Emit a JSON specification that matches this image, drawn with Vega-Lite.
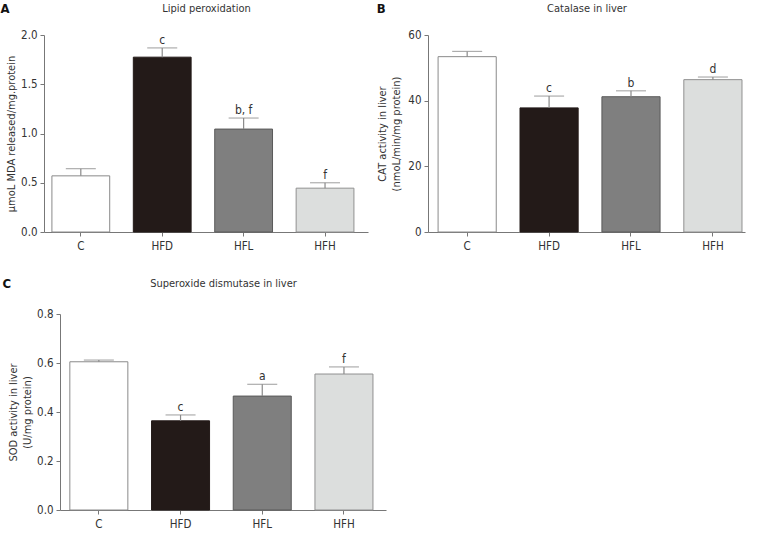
{
  "$schema": "https://vega.github.io/schema/vega-lite/v6.json",
  "padding": {"left": 0, "top": 2, "right": 2, "bottom": 2},
  "datasets": {
    "A": [
      {"g": "C", "mean": 0.57, "upper": 0.643, "sig": ""},
      {"g": "HFD", "mean": 1.775, "upper": 1.869, "sig": "c"},
      {"g": "HFL", "mean": 1.045, "upper": 1.157, "sig": "b, f"},
      {"g": "HFH", "mean": 0.445, "upper": 0.5, "sig": "f"}
    ],
    "B": [
      {"g": "C", "mean": 53.4, "upper": 55.0, "sig": ""},
      {"g": "HFD", "mean": 37.8, "upper": 41.4, "sig": "c"},
      {"g": "HFL", "mean": 41.2, "upper": 43.0, "sig": "b"},
      {"g": "HFH", "mean": 46.4, "upper": 47.2, "sig": "d"}
    ],
    "C": [
      {"g": "C", "mean": 0.605, "upper": 0.612, "sig": ""},
      {"g": "HFD", "mean": 0.364, "upper": 0.388, "sig": "c"},
      {"g": "HFL", "mean": 0.465, "upper": 0.513, "sig": "a"},
      {"g": "HFH", "mean": 0.555, "upper": 0.584, "sig": "f"}
    ]
  },
  "concat": [
    {
      "hconcat": [
        {
          "width": 324, "height": 197,
          "data": {"name": "A"},
          "title": {"text": "A", "anchor": "start", "frame": "bounds", "fontSize": 13, "fontWeight": "bold", "color": "#111", "offset": -14, "dx": -5},
          "layer": [
            {
              "encoding": {"x": {"field": "g", "type": "nominal", "sort": ["C", "HFD", "HFL", "HFH"], "scale": {"paddingInner": 0.29, "paddingOuter": 0.135, "align": 0.36}, "axis": {"title": null, "orient": "bottom"}}},
              "layer": [
                {"mark": {"type": "bar", "strokeWidth": 1},
                 "encoding": {
                   "y": {"field": "mean", "type": "quantitative", "title": "µmoL MDA released/mg.protein", "scale": {"domain": [0, 2], "nice": false}, "axis": {"values": [0, 0.5, 1, 1.5, 2], "format": ".1f", "titlePadding": 4}},
                   "fill": {"field": "g", "type": "nominal", "scale": {"domain": ["C", "HFD", "HFL", "HFH"], "range": ["#ffffff", "#231a18", "#7f7f7f", "#dcdedd"]}, "legend": null},
                   "stroke": {"field": "g", "type": "nominal", "scale": {"domain": ["C", "HFD", "HFL", "HFH"], "range": ["#8a8a8a", "#231a18", "#5a5a5a", "#909090"]}, "legend": null}
                 }},
                {"mark": {"type": "rule", "color": "#8a8a8a", "strokeWidth": 1.2},
                 "encoding": {"y": {"field": "mean", "type": "quantitative", "title": "µmoL MDA released/mg.protein"}, "y2": {"field": "upper"}}},
                {"mark": {"type": "tick", "color": "#8a8a8a", "thickness": 1.2, "size": 30},
                 "encoding": {"y": {"field": "upper", "type": "quantitative", "title": "µmoL MDA released/mg.protein"}}}
              ]
            },
            {
              "mark": {"type": "text", "baseline": "alphabetic", "dy": -4, "fontSize": 12, "color": "#333"},
              "encoding": {
                "x": {"field": "g", "type": "nominal", "sort": ["C", "HFD", "HFL", "HFH"], "axis": {"orient": "top", "title": "Lipid peroxidation", "labels": false, "ticks": false, "domain": false, "titlePadding": 22}},
                "y": {"field": "upper", "type": "quantitative", "title": "µmoL MDA released/mg.protein"},
                "text": {"field": "sig"}
              }
            }
          ],
          "resolve": {"axis": {"x": "independent"}}
        },
        {
          "width": 317, "height": 197,
          "data": {"name": "B"},
          "title": {"text": "B", "anchor": "start", "frame": "bounds", "fontSize": 13, "fontWeight": "bold", "color": "#111", "offset": -14},
          "layer": [
            {
              "encoding": {"x": {"field": "g", "type": "nominal", "sort": ["C", "HFD", "HFL", "HFH"], "scale": {"paddingInner": 0.29, "paddingOuter": 0.08, "align": 0.77}, "axis": {"title": null, "orient": "bottom"}}},
              "layer": [
                {"mark": {"type": "bar", "strokeWidth": 1},
                 "encoding": {
                   "y": {"field": "mean", "type": "quantitative", "title": ["CAT activity in liver", "(nmoL/min/mg protein)"], "scale": {"domain": [0, 60], "nice": false}, "axis": {"values": [0, 20, 40, 60], "titlePadding": 6}},
                   "fill": {"field": "g", "type": "nominal", "scale": {"domain": ["C", "HFD", "HFL", "HFH"], "range": ["#ffffff", "#231a18", "#7f7f7f", "#dcdedd"]}, "legend": null},
                   "stroke": {"field": "g", "type": "nominal", "scale": {"domain": ["C", "HFD", "HFL", "HFH"], "range": ["#8a8a8a", "#231a18", "#5a5a5a", "#909090"]}, "legend": null}
                 }},
                {"mark": {"type": "rule", "color": "#8a8a8a", "strokeWidth": 1.2},
                 "encoding": {"y": {"field": "mean", "type": "quantitative", "title": ["CAT activity in liver", "(nmoL/min/mg protein)"]}, "y2": {"field": "upper"}}},
                {"mark": {"type": "tick", "color": "#8a8a8a", "thickness": 1.2, "size": 30},
                 "encoding": {"y": {"field": "upper", "type": "quantitative", "title": ["CAT activity in liver", "(nmoL/min/mg protein)"]}}}
              ]
            },
            {
              "mark": {"type": "text", "baseline": "alphabetic", "dy": -4, "fontSize": 12, "color": "#333"},
              "encoding": {
                "x": {"field": "g", "type": "nominal", "sort": ["C", "HFD", "HFL", "HFH"], "axis": {"orient": "top", "title": "Catalase in liver", "labels": false, "ticks": false, "domain": false, "titlePadding": 22}},
                "y": {"field": "upper", "type": "quantitative", "title": ["CAT activity in liver", "(nmoL/min/mg protein)"]},
                "text": {"field": "sig"}
              }
            }
          ],
          "resolve": {"axis": {"x": "independent"}}
        }
      ],
      "spacing": 8
    },
    {
      "hconcat": [
        {
          "width": 342, "height": 196,
          "data": {"name": "C"},
          "title": {"text": "C", "anchor": "start", "frame": "bounds", "fontSize": 13, "fontWeight": "bold", "color": "#111", "offset": -14, "dx": -5},
          "layer": [
            {
              "encoding": {"x": {"field": "g", "type": "nominal", "sort": ["C", "HFD", "HFL", "HFH"], "scale": {"range": [16, 342], "paddingInner": 0.29, "paddingOuter": 0.14, "align": 0.43}, "axis": {"title": null, "orient": "bottom"}}},
              "layer": [
                {"mark": {"type": "bar", "strokeWidth": 1},
                 "encoding": {
                   "y": {"field": "mean", "type": "quantitative", "title": ["SOD activity in liver", "(U/mg protein)"], "scale": {"domain": [0, 0.8], "nice": false}, "axis": {"values": [0, 0.2, 0.4, 0.6, 0.8], "format": ".1f", "titlePadding": 4, "offset": -16}},
                   "fill": {"field": "g", "type": "nominal", "scale": {"domain": ["C", "HFD", "HFL", "HFH"], "range": ["#ffffff", "#231a18", "#7f7f7f", "#dcdedd"]}, "legend": null},
                   "stroke": {"field": "g", "type": "nominal", "scale": {"domain": ["C", "HFD", "HFL", "HFH"], "range": ["#8a8a8a", "#231a18", "#5a5a5a", "#909090"]}, "legend": null}
                 }},
                {"mark": {"type": "rule", "color": "#8a8a8a", "strokeWidth": 1.2},
                 "encoding": {"y": {"field": "mean", "type": "quantitative", "title": ["SOD activity in liver", "(U/mg protein)"]}, "y2": {"field": "upper"}}},
                {"mark": {"type": "tick", "color": "#8a8a8a", "thickness": 1.2, "size": 30},
                 "encoding": {"y": {"field": "upper", "type": "quantitative", "title": ["SOD activity in liver", "(U/mg protein)"]}}}
              ]
            },
            {
              "mark": {"type": "text", "baseline": "alphabetic", "dy": -4, "fontSize": 12, "color": "#333"},
              "encoding": {
                "x": {"field": "g", "type": "nominal", "sort": ["C", "HFD", "HFL", "HFH"], "axis": {"orient": "top", "title": "Superoxide dismutase in liver", "labels": false, "ticks": false, "domain": false, "titlePadding": 26}},
                "y": {"field": "upper", "type": "quantitative", "title": ["SOD activity in liver", "(U/mg protein)"]},
                "text": {"field": "sig"}
              }
            }
          ],
          "resolve": {"axis": {"x": "independent"}}
        }
      ]
    }
  ],
  "columns": 1,
  "align": "none",
  "spacing": 25,
  "config": {
    "font": "DejaVu Sans Condensed",
    "view": {"stroke": null},
    "axis": {
      "grid": false,
      "labelFont": "DejaVu Sans Condensed", "labelFontSize": 11.5, "labelColor": "#333",
      "titleFont": "DejaVu Sans Condensed", "titleFontSize": 11, "titleFontWeight": "normal", "titleColor": "#333", "titleLineHeight": 14,
      "domainColor": "#777", "tickColor": "#777", "tickSize": 4
    },
    "axisX": {"labelAngle": 0, "labelPadding": 4},
    "axisY": {"labelPadding": 3},
    "text": {"font": "DejaVu Sans Condensed"},
    "title": {"font": "DejaVu Sans Condensed"}
  }
}
